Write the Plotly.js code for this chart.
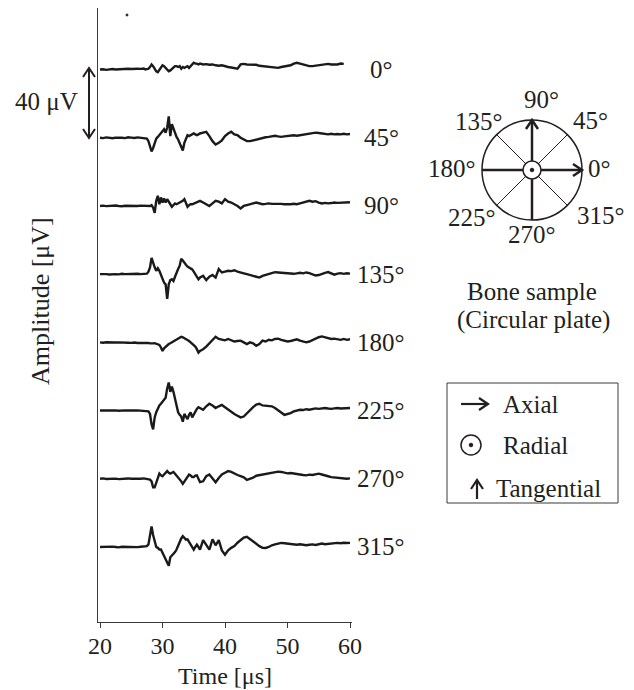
<!DOCTYPE html>
<html>
<head>
<meta charset="utf-8">
<script src="https://cdn.plot.ly/plotly-3.0.1.min.js"></script>
<style>html,body{margin:0;padding:0;background:#fff}</style>
</head>
<body>
<div id="chart" style="width:634px;height:690px"></div>
<script>
// ---- data ----
const timeUs = [20,20.5,21,21.5,22,22.5,23,23.5,24,24.5,25,25.5,26,26.5,27,
27.25,27.5,27.75,28,28.25,28.5,28.75,29,29.25,29.5,29.75,30,30.25,30.5,30.75,31,31.25,31.5,31.75,32,32.25,32.5,32.75,33,33.25,33.5,33.75,34,34.25,34.5,34.75,35,35.25,35.5,35.75,36,
36.5,37,37.5,38,38.5,39,39.5,40,40.5,41,41.5,42,42.5,43,43.5,44,44.5,45,45.5,46,46.5,47,47.5,48,48.5,49,49.5,50,50.5,51,51.5,52,52.5,53,53.5,54,54.5,55,55.5,56,56.5,57,57.5,58,58.5,59,59.5,60];

const angleLabels = ['0°','45°','90°','135°','180°','225°','270°','315°'];
const stackStepUV = 40;

const amp0 = [0,0.2,-0.2,0.1,0.3,0,0.2,0.4,0.3,0.5,0.3,0.6,0.5,0.4,0.6,
0,0.3,0.5,1.5,3,2,0.5,-1,-1.5,0,1.5,2.5,2,1,0,-1,-0.5,0.5,1,2,2,1.5,2,0.5,1.5,1,1.5,2,1,2,3.5,4,3.5,3.5,3,3.5,
3,3.2,2.8,3,2.5,2.2,2.5,1.8,1.5,1.2,0.8,0.5,3,3.3,3,3,2.6,2.8,2.2,2,2,1.6,1.5,1.2,1,
1.5,1.8,2,2.5,3.5,4,3.5,3,2.2,2,2,2.3,2.2,2.5,2.8,3.3,3,2.8,3,3.5,3.3,null,null];

const amp45 = [0,-0.2,0.2,0,-0.3,0.1,0.2,0,-0.2,0.3,0.1,-0.1,0.2,0,-0.3,
0,-0.5,-2,-5,-8,-6,-3,-0.5,0.5,1.5,3,4,5,3,6,12.5,1,8,5,3,0.5,-1,-3,-5.5,-7.5,-3,0,1.5,1,1.5,2,2.5,2,1.5,2,2.5,
3,3.5,1,-2,-4,-3,-1.5,1,2.5,3.5,2,1.5,0,-1,-2,-2,-1.5,-1,-0.5,0,0.3,0.5,1,1.2,0.8,
0.5,0.8,1,1.3,1.5,1.2,1.5,2,2,2.3,2.5,3,2.8,2.5,2.2,2,2.3,2,2.2,2,2.3,2,2.2];

const amp90 = [0,0.2,-0.1,0.1,0,0.3,0,-0.2,0.1,0,0.2,-0.1,0,0.2,0,
0,0.2,-0.3,0,0.5,-1,-4,3,6,1,5,2,4.5,2,4,2,1,-0.5,0.5,1.5,1,1.5,2,2.5,3,4,2,-0.5,0.5,1,1,1.5,2,2.5,3,3,
2,1,0,1.5,3,2.5,1.5,4,2.5,2,1,0,-1.5,0,0.5,0.8,1.5,2,1.5,1,1.2,1.5,1.2,1.3,1,
1.2,1,0.8,1,1.3,1,1.5,2,2.5,3,2.5,2.8,2,1.5,1.8,1.5,1.7,2,1.8,2,2.2,2,2.2];

const amp135 = [0,0.2,0,-0.2,0.1,0,-0.1,0.2,0,0.1,-0.2,0,0.2,0,0.1,
0,0.3,1.5,4,9.5,6,4,2,3.5,2,-0.5,-3,-5,-6,-14.5,-6,-3.5,-3,-4,-1.5,1.5,3,5,9,8,6.5,5.5,4.5,3.8,3.5,2.8,1.5,0,-1.5,-3,-2,
-1,-3.5,-1.5,-0.5,-2,3,1,1.5,2,1.8,2.3,1.5,0.8,0.5,0,-0.3,-1,-1.5,-2,-1,-0.5,0,0.5,1.2,1,
0.8,0.5,0.7,0.4,0.2,0.5,0.8,0.5,1,0.6,0,-0.8,-0.5,0.3,0.8,1.2,0.5,-0.3,0.3,0.6,0.2,0.5,0.3];

const amp180 = [0,-0.2,0.1,0,-0.3,-0.1,0,-0.2,-0.4,-0.2,-0.3,-0.1,-0.4,-0.3,-0.5,
-0.3,-0.5,-0.3,-0.6,-0.4,-0.6,-0.5,-0.8,-1,-1.5,-3,-5,-3.5,-2.5,-2,-1,-0.5,0,0.5,1,1.5,2,2.5,3.3,3,2.5,2,1.5,0.8,0,-0.8,-1.5,-2.5,-4,-6,-5,
-4,-2.5,-0.5,1.5,3.3,2,1.5,1.2,2,1,0.5,0.8,1,0,-1,0,-0.5,-2,-1,1,0.5,1.5,1.2,2,2.2,
1.5,1,0.5,0.8,1.5,1.8,1,0.3,0,0.5,1.5,2.5,3,3.5,3,2.5,2,2.2,1.8,1.5,2,1.5,1.8];

const amp225 = [0,0.1,-0.1,0.2,0,0.1,-0.1,0.2,0.1,0,0.2,0,0.1,0,-0.1,
0,-0.2,-0.5,-2,-8,-11,-4,-1,1.5,3,4,5,6,7.5,13,16.5,11,14,11,7,3,-1,-2.5,-3.5,-6.5,-2,-3.5,-5,-2.5,-1,-4,-2,0,1,2,1.5,
0.5,2.5,4,3,1.5,2.5,3.3,2,0.5,-1,-2,-3,-4,-3.5,-1.5,0.5,2,3.5,4,3,2.8,2.5,2.5,1.5,0,
-1.5,-2.5,-2,-1.5,-0.5,0,0.5,0.3,0.8,0.5,1,1.3,1,1.2,1.5,1.2,1,1.3,1.5,1.2,1.4,1.2,1.5];

const amp270 = [0,0.2,-0.1,0,0.2,0.1,-0.2,0,0.1,0.2,0,-0.1,0.1,0,0.2,
0,-0.2,0,-0.5,-1.5,-5,-5,-2,0.5,3,2,1.5,2.5,3.5,4.5,3.5,3,3.5,4,3,2,1,0,-1.5,-3,-1.5,0,1.5,2.5,2,1,1,1.8,2,0,-2,
-1.5,1.5,2.5,0,-2,0.5,2.5,3.5,4.5,4,3,2.2,1.5,0.8,-0.6,0,0.6,1.8,2.2,2.5,2.8,3.3,3.5,4,4.2,
4,3.6,3.2,3.4,3,2.8,2.5,2.2,2,2.4,2.2,2.8,3,2.5,1.8,1.5,1,0.8,0.5,0.3,0.2,0,0.2];

const amp315 = [0,0.1,-0.1,0,0.2,0,-0.2,0.1,0,0.2,0.1,0,-0.1,0.1,0.3,
0.2,0.5,1.5,6,12,7,3,0,-0.5,-1.5,-1.5,-3.5,-5,-7,-9,-11,-6,-5,-4.5,-3,-1.5,1,3,5,6.3,5,4.3,4.5,3,1.5,0,-1.6,0,1.4,0,-1.6,
4,1,-1.6,4.5,1,4,-2,-4.5,-2,-0.5,0.5,2.5,4,5.5,6,4.5,3,1.5,0.5,-0.5,-0.6,0,1,1.5,2,
2.4,2.2,2,1.8,1.5,1.3,1.6,1.2,1,1.3,1.5,1.2,1.8,2,1.6,1.8,2.2,2,2.4,2.2,2.5,2.3,2.4];

const series = [amp0, amp45, amp90, amp135, amp180, amp225, amp270, amp315];

// ---- drawing ----
const W = 634, H = 690;
const FONT = '"Liberation Serif", "Times New Roman", serif';
const INK = '#231f20';
const FS = 25;
const fx = x => x / W;
const fy = y => 1 - y / H;

const traces = series.map((arr, i) => ({
  type: 'scatter', mode: 'lines', x: timeUs,
  y: arr.map(v => v === null ? null : v - i * stackStepUV),
  line: {color: '#1a1a1a', width: 2.4}, hoverinfo: 'skip', connectgaps: false
}));

function ann(text, x, y, opt) {
  return Object.assign({text: text, x: fx(x), y: fy(y), xref: 'paper', yref: 'paper',
    showarrow: false, xanchor: 'center', yanchor: 'middle',
    font: {family: FONT, size: FS, color: INK}}, opt || {});
}
function line(x0, y0, x1, y1, w) {
  return {type: 'line', xref: 'paper', yref: 'paper', x0: fx(x0), y0: fy(y0), x1: fx(x1), y1: fy(y1),
    line: {color: INK, width: w}};
}
function path(pts, w, fill) {
  const d = pts.map((p, k) => (k ? 'L' : 'M') + fx(p[0]).toFixed(5) + ',' + fy(p[1]).toFixed(5)).join(' ') + (fill ? ' Z' : '');
  return {type: 'path', xref: 'paper', yref: 'paper', path: d,
    line: {color: INK, width: w}, fillcolor: fill || 'rgba(0,0,0,0)'};
}
function circ(cx, cy, r, w, fill) {
  return {type: 'circle', xref: 'paper', yref: 'paper', x0: fx(cx - r), x1: fx(cx + r), y0: fy(cy + r), y1: fy(cy - r),
    line: {color: INK, width: w}, fillcolor: fill || 'rgba(0,0,0,0)'};
}

const cx = 532, cy = 170, R = 50, d45 = R * Math.SQRT1_2;
const shapes = [
  // scale bar
  line(89, 69, 89, 137, 2),
  path([[83, 77], [89, 68], [95, 77]], 2),
  path([[83, 129], [89, 138], [95, 129]], 2),
  // stray dot
  circ(127, 15, 1, 1, INK),
  // plate diagram
  circ(cx, cy, R, 1.5),
  line(cx - d45, cy - d45, cx + d45, cy + d45, 1),
  line(cx - d45, cy + d45, cx + d45, cy - d45, 1),
  line(cx - R, cy, cx + R - 2, cy, 2.5),
  line(cx, cy + R, cx, cy - R + 2, 2.5),
  path([[cx + R - 9, cy - 6], [cx + R, cy], [cx + R - 9, cy + 6]], 2.5),
  path([[cx - 6, cy - R + 9], [cx, cy - R], [cx + 6, cy - R + 9]], 2.5),
  circ(cx, cy, 9, 1.5, '#ffffff'),
  circ(cx, cy, 1.8, 1, INK),
  // legend box
  {type: 'rect', xref: 'paper', yref: 'paper', x0: fx(447), x1: fx(618), y0: fy(503), y1: fy(383),
   line: {color: '#3a3a3a', width: 1}, fillcolor: 'rgba(0,0,0,0)'},
  line(461, 404, 486, 404, 2.2),
  path([[479, 398], [488, 404], [479, 410]], 2.2),
  circ(471, 445, 10, 1.5),
  circ(471, 445, 1.8, 1, INK),
  line(477, 499, 477, 482, 2.2),
  path([[471, 489], [477, 480], [483, 489]], 2.2)
];

const annotations = [
  ann('40 μV', 46, 101),
  ann('Amplitude [μV]', 40, 301, {textangle: -90, font: {family: FONT, size: 26, color: INK}}),
  ann('Time [μs]', 225, 676, {font: {family: FONT, size: 24, color: INK}}),
  ann('90°', 541, 99),
  ann('135°', 479, 121),
  ann('45°', 590, 120),
  ann('180°', 452, 168),
  ann('0°', 599, 168),
  ann('225°', 472, 217),
  ann('315°', 601, 216),
  ann('270°', 532, 235),
  ann('Bone sample', 532, 291),
  ann('(Circular plate)', 533, 320),
  ann('Axial', 501, 404, {xanchor: 'left'}),
  ann('Radial', 501, 445, {xanchor: 'left'}),
  ann('Tangential', 494, 488, {xanchor: 'left'})
];
angleLabels.forEach((t, i) => {
  annotations.push({text: t, x: fx(381), xref: 'paper', y: -i * stackStepUV, yref: 'y',
    showarrow: false, xanchor: 'center', yanchor: 'middle',
    font: {family: FONT, size: FS, color: INK}});
});

const layout = {
  width: W, height: H,
  margin: {l: 0, r: 0, t: 0, b: 0},
  paper_bgcolor: '#ffffff', plot_bgcolor: '#ffffff',
  showlegend: false,
  xaxis: {domain: [98 / W, 352 / W], range: [19.68, 60.32], showline: true, linecolor: '#3a3a3a', linewidth: 1,
    ticks: 'outside', ticklen: 5, tickcolor: '#3a3a3a', tickvals: [20, 30, 40, 50, 60], ticklabelstandoff: -3,
    tickfont: {family: FONT, size: 24, color: INK}, showgrid: false, zeroline: false, fixedrange: true},
  yaxis: {domain: [1 - 622 / H, 1 - 8 / H], range: [-324, 36.1], showline: true, linecolor: '#3a3a3a', linewidth: 1,
    showticklabels: false, ticks: '', showgrid: false, zeroline: false, fixedrange: true},
  shapes: shapes,
  annotations: annotations
};

Plotly.newPlot('chart', traces, layout, {staticPlot: true, displayModeBar: false});
</script>
</body>
</html>
